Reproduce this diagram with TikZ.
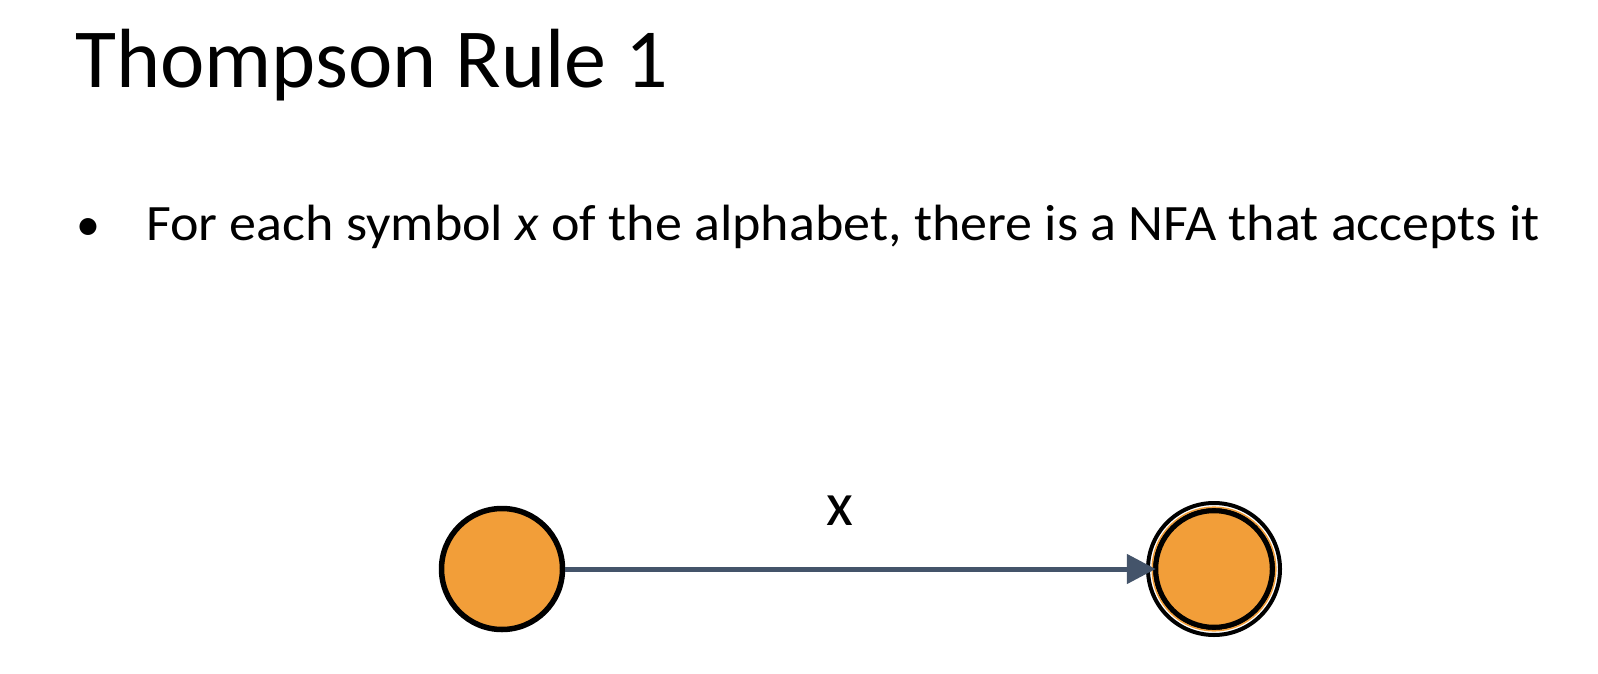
\documentclass[tikz,border=0pt]{standalone}
\usepackage{fontspec}
\setmainfont{Carlito}
\usetikzlibrary{arrows.meta}
\definecolor{nfaorange}{HTML}{F29E39}
\definecolor{edgeslate}{HTML}{44546A}
\begin{document}
\begin{tikzpicture}[x=1pt,y=-1pt,
        state/.style = {circle, draw = black, line width = 5.5pt, fill = nfaorange,
            minimum size = 121pt, inner sep = 0pt},
        edge/.style = {draw = edgeslate, line width = 5pt,
            -{Triangle[length = 29pt, width = 29pt]}, shorten >= -3pt}]
        \useasboundingbox (0,0) rectangle (1598,674);
        \begin{scope}[every node/.append style = {inner sep = 0pt, anchor = base west}]
            \node (title) at (75,88) {\fontsize{84}{90}\selectfont Thompson Rule 1};
            \node (dot) at (76,240) {\fontsize{48}{50}\selectfont\textbullet};
            \node (item) at (146,240) {\fontsize{51}{56}\selectfont\addfontfeatures{FakeStretch=1.06}For each symbol \textit{x} of the alphabet, there is a NFA that accepts it};
        \end{scope}
        \node[state] (s) at (502,569) {};
        \node[state, minimum size = 117pt] (f) at (1214,569) {};
        \draw[line width = 4pt] (f.center) circle[radius = 66];
        \draw[nfaorange, line width = 1.5pt] (f.center) circle[radius = 61.8];
        \draw[edge] (s) -- (f);
        \node[inner sep = 0pt, anchor = base] (sym) at (840,525) {\fontsize{62}{66}\selectfont x};
    \end{tikzpicture}
\end{document}
